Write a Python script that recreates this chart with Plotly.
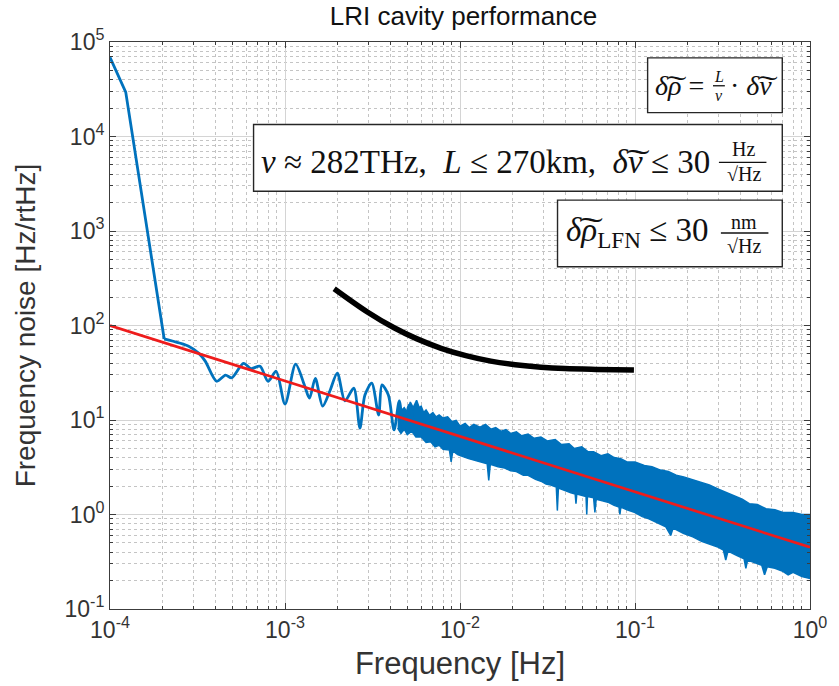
import plotly.graph_objects as go

# ---------------- data ----------------
# low-frequency part of the measured frequency noise (blue line)
lf_freq = [1.0e-4, 1.23e-4, 2.04e-4, 2.83e-4, 3.22e-4, 3.5e-4, 4.07e-4, 4.57e-4, 4.96e-4,
           5.79e-4, 6.4e-4, 7.2e-4, 8.0e-4, 8.9e-4, 1.0e-3, 1.15e-3, 1.29e-3, 1.38e-3,
           1.49e-3, 1.64e-3, 1.8e-3, 1.99e-3, 2.2e-3, 2.47e-3, 2.68e-3, 2.86e-3, 3.13e-3,
           3.43e-3, 3.58e-3, 3.9e-3, 4.2e-3, 4.5e-3, 4.76e-3, 5.1e-3, 5.5e-3]
lf_noise = [69000, 29500, 72, 60, 50.7, 42, 25.7, 29.8, 28,
            39.8, 35, 37, 25.7, 32.8, 14.7, 39, 23.5, 17,
            27.6, 14, 20, 31.3, 15.9, 21.7, 8.2, 18.3, 24.5,
            11.3, 23.5, 18.3, 7.85, 15.9, 7.85, 14.4, 8.85]

# high-frequency dense noise band: upper envelope
band_up_freq = [4.4e-3, 4.6e-3, 4.8e-3, 5.0e-3, 5.2e-3, 5.4e-3, 5.65e-3, 5.85e-3, 6.0e-3, 6.2e-3,
                6.4e-3, 6.7e-3, 7.0e-3, 7.3e-3, 7.6e-3, 8.0e-3, 8.5e-3, 9.0e-3, 9.5e-3, 1.0e-2,
                1.07e-2, 1.13e-2, 1.2e-2, 1.3e-2, 1.4e-2, 1.5e-2, 1.6e-2, 1.72e-2, 1.83e-2, 1.95e-2,
                2.1e-2, 2.25e-2, 2.45e-2, 2.65e-2, 2.9e-2, 3.15e-2, 3.5e-2, 3.8e-2, 4.2e-2, 4.5e-2,
                4.96e-2, 5.4e-2, 5.8e-2, 6.4e-2, 7.0e-2, 7.6e-2, 8.3e-2, 9.0e-2, 0.1, 0.113,
                0.125, 0.14, 0.155, 0.172, 0.19, 0.21, 0.235, 0.266, 0.3, 0.33,
                0.37, 0.41, 0.45, 0.5, 0.56, 0.63, 0.7, 0.8, 0.9, 1.0]
band_up_noise = [14.4, 12.5, 13.5, 12.0, 15.5, 13.5, 16.2, 13.5, 14.0, 12.0,
                 12.8, 11.2, 12.0, 10.8, 11.3, 10.5, 10.8, 9.6, 9.9, 8.6,
                 9.2, 8.3, 9.0, 8.4, 9.0, 8.0, 8.3, 7.6, 7.9, 7.2,
                 7.5, 6.8, 7.1, 6.4, 6.6, 6.0, 6.2, 5.5, 5.6, 5.0,
                 5.2, 4.6, 4.6, 4.2, 4.4, 4.0, 3.9, 3.6, 3.6, 3.3,
                 3.2, 2.95, 2.85, 2.6, 2.5, 2.35, 2.2, 2.05, 1.85, 1.72,
                 1.55, 1.45, 1.3, 1.28, 1.15, 1.12, 1.05, 1.05, 1.0, 1.0]
# lower envelope (with the downward spikes)
band_lo_freq = [4.4e-3, 4.6e-3, 4.8e-3, 5.0e-3, 5.3e-3, 5.6e-3, 6.0e-3, 6.4e-3, 6.8e-3, 7.2e-3,
                7.6e-3, 8.0e-3, 8.7e-3, 8.9e-3, 9.1e-3, 9.7e-3, 1.04e-2, 1.12e-2, 1.2e-2, 1.3e-2,
                1.43e-2, 1.46e-2, 1.49e-2, 1.65e-2, 1.8e-2, 1.95e-2, 2.1e-2, 2.3e-2, 2.45e-2, 2.7e-2,
                2.9e-2, 3.1e-2, 3.3e-2, 3.55e-2, 3.6e-2, 3.65e-2, 4.0e-2, 4.3e-2, 4.55e-2, 4.6e-2,
                4.65e-2, 5.0e-2, 5.25e-2, 5.3e-2, 5.35e-2, 5.8e-2, 5.9e-2, 6.0e-2, 6.5e-2, 7.0e-2,
                7.6e-2, 8.1e-2, 8.2e-2, 8.3e-2, 9.0e-2, 0.1, 0.11, 0.12, 0.13, 0.138,
                0.15, 0.16, 0.165, 0.19, 0.214, 0.24, 0.27, 0.3, 0.32, 0.33,
                0.34, 0.38, 0.42, 0.43, 0.44, 0.48, 0.53, 0.55, 0.57, 0.63,
                0.7, 0.75, 0.8, 0.9, 1.0]
band_lo_noise = [8.2, 7.2, 8.0, 7.0, 7.6, 6.6, 6.6, 5.8, 5.9, 5.2,
                 5.4, 4.9, 4.8, 3.6, 4.7, 4.3, 4.1, 3.9, 3.8, 3.6,
                 3.45, 2.3, 3.4, 3.2, 3.1, 2.9, 2.85, 2.6, 2.6, 2.35,
                 2.25, 2.1, 2.05, 1.95, 1.1, 1.9, 1.8, 1.7, 1.65, 1.3,
                 1.65, 1.6, 1.55, 1.0, 1.55, 1.5, 1.05, 1.45, 1.4, 1.35,
                 1.25, 1.2, 1.0, 1.2, 1.12, 1.05, 0.95, 0.9, 0.85, 0.8,
                 0.74, 0.6, 0.72, 0.63, 0.58, 0.52, 0.48, 0.45, 0.42, 0.33,
                 0.41, 0.37, 0.34, 0.27, 0.33, 0.31, 0.29, 0.23, 0.28, 0.27,
                 0.25, 0.23, 0.245, 0.22, 0.21]

# red power-law fit
fit_freq = [1e-4, 1.0]
fit_noise = [100, 0.45]

# black requirement curve
req_freq = [1.91e-3, 2.94e-3, 4.2e-3, 5.64e-3, 7.8e-3, 1.08e-2, 1.5e-2, 2.07e-2, 2.9e-2, 3.97e-2, 6.0e-2, 9.86e-2]
req_noise = [245, 140, 94.6, 72.6, 57.4, 48.0, 42.0, 38.5, 36.2, 35.0, 34.3, 33.8]

x_tickvals = [1e-4, 1e-3, 1e-2, 1e-1, 1]
x_ticktext = ["10<sup>-4</sup>", "10<sup>-3</sup>", "10<sup>-2</sup>", "10<sup>-1</sup>", "10<sup>0</sup>"]
y_tickvals = [1e-1, 1, 10, 100, 1e3, 1e4, 1e5]
y_ticktext = ["10<sup>-1</sup>", "10<sup>0</sup>", "10<sup>1</sup>", "10<sup>2</sup>",
              "10<sup>3</sup>", "10<sup>4</sup>", "10<sup>5</sup>"]

# ---------------- figure ----------------
BLUE = "#0072BD"
W, H = 839, 686
ML, MR, MT, MB = 110, 22, 42, 74
PW, PH = W - ML - MR, H - MT - MB
SANS = "Liberation Sans, Arial, sans-serif"
SERIF = "Liberation Serif, Times New Roman, serif"


def px(xp, yp):
    return (xp - ML) / PW, (H - MB - yp) / PH


fig = go.Figure()

# dense band
fig.add_trace(go.Scatter(
    x=band_up_freq + band_lo_freq[::-1],
    y=band_up_noise + band_lo_noise[::-1],
    fill="toself", fillcolor=BLUE, mode="lines",
    line=dict(color=BLUE, width=1.5), hoverinfo="skip", showlegend=False))

# low-frequency line (steep part linear, wiggly part smoothed)
fig.add_trace(go.Scatter(x=lf_freq[:3], y=lf_noise[:3], mode="lines",
                         line=dict(color=BLUE, width=2.8), showlegend=False))
fig.add_trace(go.Scatter(x=lf_freq[2:], y=lf_noise[2:], mode="lines",
                         line=dict(color=BLUE, width=2.8, shape="spline", smoothing=0.8),
                         showlegend=False))

# red fit
fig.add_trace(go.Scatter(x=fit_freq, y=fit_noise, mode="lines",
                         line=dict(color="#EE1C1C", width=2.7), showlegend=False))

# black requirement
fig.add_trace(go.Scatter(x=req_freq, y=req_noise, mode="lines",
                         line=dict(color="black", width=5.5, shape="spline", smoothing=1.0),
                         showlegend=False))

axis_common = dict(
    type="log", showline=True, mirror="allticks", linecolor="#3c3c3c", linewidth=1,
    ticks="inside", ticklen=6, tickcolor="#3c3c3c",
    showgrid=True, gridcolor="#d4d4d4", gridwidth=1, zeroline=False,
    tickfont=dict(family=SANS, size=23, color="#333333"),
    minor=dict(dtick="D1", ticks="inside", ticklen=3, tickcolor="#3c3c3c",
               showgrid=True, gridcolor="#c4c4c4", griddash="dot", gridwidth=1),
)

fig.update_xaxes(**axis_common, range=[-4, 0], tickmode="array",
                 tickvals=x_tickvals, ticktext=x_ticktext,
                 title=dict(text="Frequency [Hz]", standoff=10,
                            font=dict(family=SANS, size=31, color="#333333")))
fig.update_yaxes(**axis_common, range=[-1, 5], tickmode="array",
                 tickvals=y_tickvals, ticktext=y_ticktext,
                 title=dict(text="Frequency noise [Hz/rtHz]", standoff=20,
                            font=dict(family=SANS, size=28, color="#333333")))

# annotation boxes
boxes = [(653, 58, 789, 113), (255, 125, 789, 192), (562, 201, 789, 268)]
shapes = []
for (x0, y0, x1, y1) in boxes:
    a0, b0 = px(x0, y1)
    a1, b1 = px(x1, y0)
    shapes.append(dict(type="rect", xref="paper", yref="paper", x0=a0, y0=b0, x1=a1, y1=b1,
                       line=dict(color="#262626", width=1.4), fillcolor="white", layer="above"))

# fraction bars
for (x0, x1, yy) in [(725, 773, 163), (727, 775, 234), (719, 731, 86)]:
    a0, b = px(x0, yy)
    a1, _ = px(x1, yy)
    shapes.append(dict(type="line", xref="paper", yref="paper", x0=a0, y0=b, x1=a1, y1=b,
                       line=dict(color="#111111", width=1.3), layer="above"))
fig.update_layout(shapes=shapes)

annots = []


def txt(t, xp, yp, size, xanchor="left"):
    a, b = px(xp, yp)
    annots.append(dict(text=t, x=a, y=b, xref="paper", yref="paper", showarrow=False,
                       xanchor=xanchor, yanchor="middle", borderpad=0,
                       font=dict(family=SERIF, size=size, color="#111111")))


# box 1
txt("<i>δ͠ρ</i> =", 659, 86, 28, "left")
txt("<i>L</i>", 725, 77, 16, "center")
txt("<i>ν</i>", 725, 96, 16, "center")
txt("· <i>δ͠ν</i>", 735, 86, 28, "left")
# box 2
txt("<i>ν</i> ≈ 282THz,  <i>L</i> ≤ 270km,  <i>δ͠ν</i> ≤ 30", 262, 163, 33, "left")
txt("Hz", 750, 150, 20, "center")
txt("√Hz", 750, 175, 20, "center")
# box 3
txt("<i>δ͠ρ</i><sub>LFN</sub> ≤ 30", 570, 234, 33, "left")
txt("nm", 750, 223, 20, "center")
txt("√Hz", 750, 247, 20, "center")

fig.update_layout(
    annotations=annots,
    width=W, height=H,
    margin=dict(l=ML, r=MR, t=MT, b=MB),
    paper_bgcolor="white", plot_bgcolor="white",
    title=dict(text="LRI cavity performance", x=(ML + PW / 2) / W, xanchor="center",
               y=1 - 16 / H, yanchor="middle",
               font=dict(family=SANS, size=26, color="#111111")),
    showlegend=False,
)

fig.write_html("out.html")
